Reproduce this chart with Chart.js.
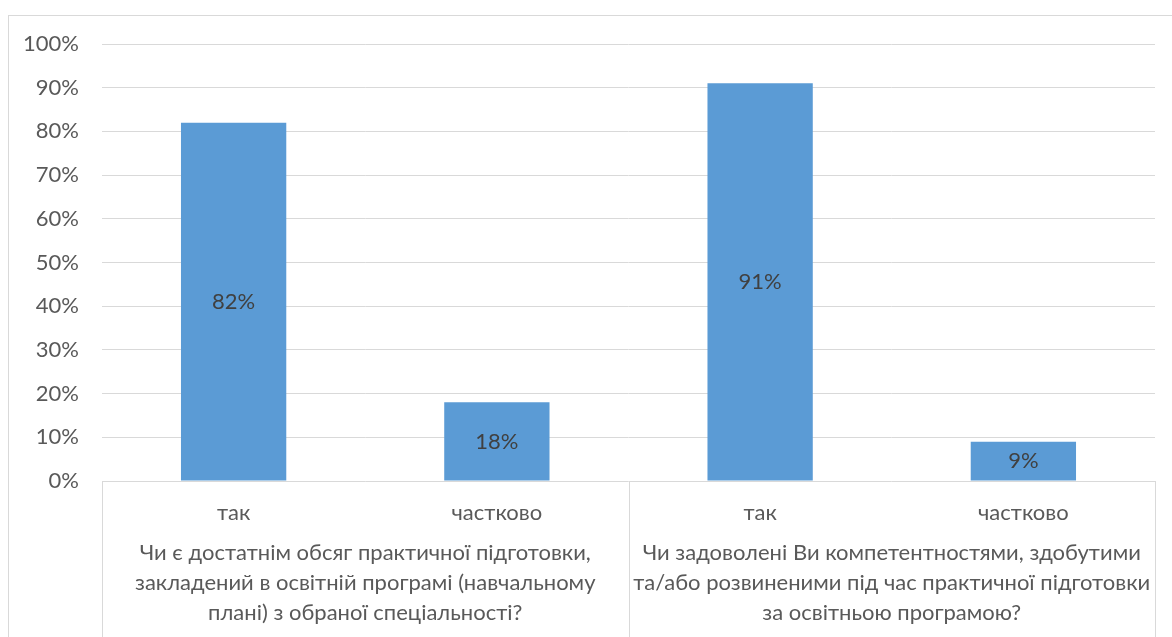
<!DOCTYPE html>
<html>
<head>
<meta charset="utf-8">
<script src="https://cdn.jsdelivr.net/npm/chart.js@4"></script>
<style>
    body { margin: 0; background: #fff; }
    #wrap { width: 1172px; height: 637px; }
</style>
</head>
<body>
<div id="wrap"><canvas id="chart" width="1172" height="637"></canvas></div>
<script>
// answers under each question
var answers = ['так', 'частково', 'так', 'частково'];
// percent of respondents
var percents = [82, 18, 91, 9];
// questions, one per pair of bars (already wrapped like in the picture)
var questions = [
    ['Чи є достатнім обсяг практичної підготовки,', 'закладений в освітній програмі (навчальному', 'плані) з обраної спеціальності?'],
    ['Чи задоволені Ви компетентностями, здобутими', 'та/або розвиненими під час практичної підготовки', 'за освітньою програмою?']
];

var FONT = 'Lato, "Open Sans", sans-serif';
var FSIZE = 22;
var GRID = '#d9d9d9';
var TEXT = '#595959';

// border, lower frame lines, question labels, value labels
var extras = {
    id: 'extras',
    beforeDraw: function(chart) {
        var c = chart.ctx;
        c.save();
        c.strokeStyle = GRID;
        c.lineWidth = 1;
        c.strokeRect(8.5, 15.5, 1300, 800);
        c.restore();
    },
    afterDraw: function(chart) {
        var c = chart.ctx;
        var area = chart.chartArea;
        var x = chart.scales.x;
        c.save();
        c.strokeStyle = GRID;
        c.lineWidth = 1;
        var seps = [area.left, (x.getPixelForValue(1) + x.getPixelForValue(2)) / 2, area.right];
        seps.forEach(function(px) {
            c.beginPath();
            c.moveTo(Math.round(px) + 0.5, area.bottom);
            c.lineTo(Math.round(px) + 0.5, chart.height);
            c.stroke();
        });

        c.fillStyle = TEXT;
        c.font = FSIZE + 'px ' + FONT;
        c.textAlign = 'center';
        c.textBaseline = 'middle';
        questions.forEach(function(lines, g) {
            var cx = (x.getPixelForValue(g * 2) + x.getPixelForValue(g * 2 + 1)) / 2;
            lines.forEach(function(t, k) {
                c.fillText(t, cx, area.bottom + 72 + k * 30);
            });
        });

        c.fillStyle = '#404040';
        var meta = chart.getDatasetMeta(0);
        meta.data.forEach(function(bar, i) {
            c.fillText(percents[i] + '%', bar.x, (bar.y + bar.base) / 2);
        });
        c.restore();
    }
};

var ctx = document.getElementById('chart').getContext('2d');
var myChart = new Chart(ctx, {
    type: 'bar',
    data: {
        labels: answers,
        datasets: [{
            data: percents,
            backgroundColor: '#5b9bd5',
            borderWidth: 0,
            categoryPercentage: 1,
            barPercentage: 0.4
        }]
    },
    options: {
        responsive: false,
        animation: false,
        layout: { padding: { left: 8, top: 44, right: 17, bottom: 0 } },
        plugins: {
            legend: { display: false },
            tooltip: { enabled: false }
        },
        scales: {
            x: {
                grid: { display: false },
                border: { display: false },
                ticks: {
                    color: TEXT,
                    font: { family: FONT, size: FSIZE },
                    padding: 11,
                    maxRotation: 0
                },
                afterFit: function(s) { s.height = 156; }
            },
            y: {
                min: 0,
                max: 100,
                ticks: {
                    stepSize: 10,
                    color: TEXT,
                    font: { family: FONT, size: FSIZE },
                    padding: 23,
                    callback: function(v) { return v + '%'; }
                },
                grid: { color: GRID, lineWidth: 1, drawTicks: false },
                border: { display: false },
                afterFit: function(s) { s.width = 94; }
            }
        }
    },
    plugins: [extras]
});
</script>
</body>
</html>
